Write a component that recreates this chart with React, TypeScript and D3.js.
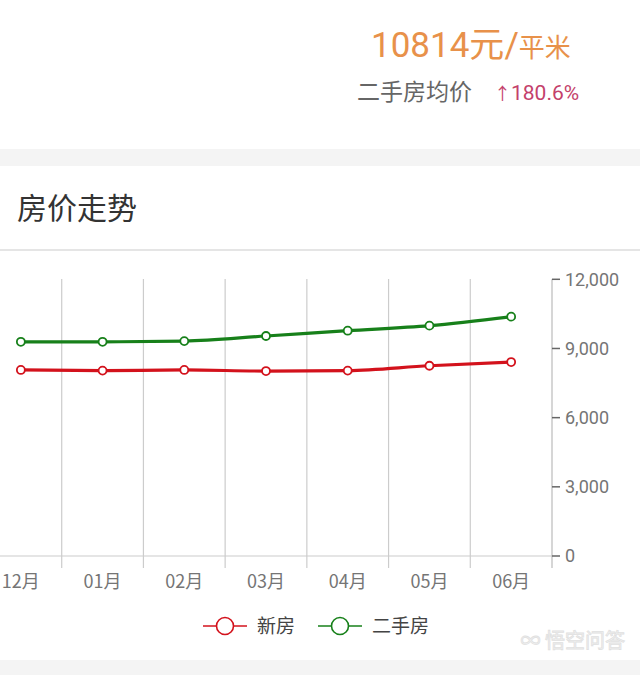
import * as d3 from 'd3';

const months = ['12月', '01月', '02月', '03月', '04月', '05月', '06月'];
const newHouse = [8070, 8040, 8070, 8020, 8040, 8250, 8410];
const secondHand = [9290, 9290, 9320, 9540, 9770, 9990, 10380];
const yTicks = [0, 3000, 6000, 9000, 12000];

const RED = '#d3121c';
const GREEN = '#17801a';
const FONT = "Roboto, 'Noto Sans CJK SC', sans-serif";
const CJK = "'Noto Sans CJK SC', Roboto, sans-serif";

export default function App() {
  const width = 640;
  const height = 675;

  const x = d3.scaleBand<string>().domain(months).range([-20, 552]);
  const y = d3.scaleLinear().domain([0, 12000]).range([556, 279.3]);
  const cx = (m: string) => (x(m) ?? 0) + x.bandwidth() / 2;

  const line = d3
    .line<number>()
    .x((_, i) => cx(months[i]))
    .y((d) => y(d))
    .curve(d3.curveMonotoneX);

  const series = [
    { name: '新房', color: RED, values: newHouse },
    { name: '二手房', color: GREEN, values: secondHand },
  ];

  const gridX = months.map((m) => (x(m) ?? 0) + x.bandwidth());

  return (
    <svg
      width={width}
      height={height}
      style={{ position: 'absolute', left: 0, top: 0, background: '#fff' }}
    >
      {/* header */}
      <text x={371} y={57} fill="#e8914a" fontFamily={FONT}>
        <tspan fontSize={35}>10814</tspan>
        <tspan fontSize={35} fontFamily={CJK}>元</tspan>
        <tspan fontSize={35}>/</tspan>
        <tspan fontSize={26} fontFamily={CJK}>平米</tspan>
      </text>
      <text x={357} y={100} fill="#666" fontSize={23} fontFamily={CJK}>
        二手房均价
      </text>
      <text x={494} y={100} fill="#c4416b" fontSize={21} fontFamily={FONT}>
        <tspan fontSize={17}>↑</tspan>180.6%
      </text>

      <rect x={0} y={149} width={width} height={17} fill="#f4f4f4" />
      <text x={17} y={219} fill="#333" fontSize={30} fontFamily={CJK}>
        房价走势
      </text>
      <line x1={0} x2={width} y1={250} y2={250} stroke="#ddd" strokeWidth={1.5} />

      {/* grid */}
      {gridX.slice(0, -1).map((gx, i) => (
        <line key={i} x1={gx} x2={gx} y1={279} y2={568} stroke="#ccc" strokeWidth={1.2} />
      ))}
      <line x1={0} x2={552} y1={y(0)} y2={y(0)} stroke="#ccc" strokeWidth={1.2} />
      <line x1={552} x2={552} y1={y(12000)} y2={568} stroke="#bbb" strokeWidth={1.2} />

      {/* y axis */}
      {yTicks.map((t) => (
        <g key={t}>
          <line x1={552} x2={560} y1={y(t)} y2={y(t)} stroke="#666" strokeWidth={1.5} />
          <text
            x={565}
            y={y(t)}
            dy="0.35em"
            fill="#757575"
            fontSize={18}
            fontFamily={FONT}
          >
            {d3.format(',')(t)}
          </text>
        </g>
      ))}

      {/* x labels */}
      {months.map((m) => (
        <text
          key={m}
          x={cx(m)}
          y={588}
          textAnchor="middle"
          fill="#757575"
          fontSize={18}
          fontFamily={CJK}
        >
          {m}
        </text>
      ))}

      {/* series */}
      {series.map((s) => (
        <g key={s.name}>
          <path d={line(s.values) ?? ''} fill="none" stroke={s.color} strokeWidth={3.2} />
          {s.values.map((v, i) => (
            <circle
              key={i}
              cx={cx(months[i])}
              cy={y(v)}
              r={4}
              fill="#fff"
              stroke={s.color}
              strokeWidth={1.8}
            />
          ))}
        </g>
      ))}

      {/* legend */}
      {series.map((s, i) => {
        const lx = 203 + i * 115;
        return (
          <g key={s.name}>
            <line x1={lx} x2={lx + 44} y1={626} y2={626} stroke={s.color} strokeWidth={1.6} />
            <circle cx={lx + 22} cy={626} r={8.5} fill="#fff" stroke={s.color} strokeWidth={1.6} />
            <text
              x={lx + 54}
              y={626}
              dy="0.35em"
              fill="#444"
              fontSize={19}
              fontFamily={CJK}
            >
              {s.name}
            </text>
          </g>
        );
      })}

      {/* watermark */}
      <text
        x={625}
        y={648}
        textAnchor="end"
        fill="#f4f4f4"
        stroke="#e0e0e0"
        strokeWidth={0.8}
        fontSize={20}
        fontFamily={CJK}
      >
        ∞ 悟空问答
      </text>

      <rect x={0} y={660} width={width} height={15} fill="#f4f4f4" />
    </svg>
  );
}
